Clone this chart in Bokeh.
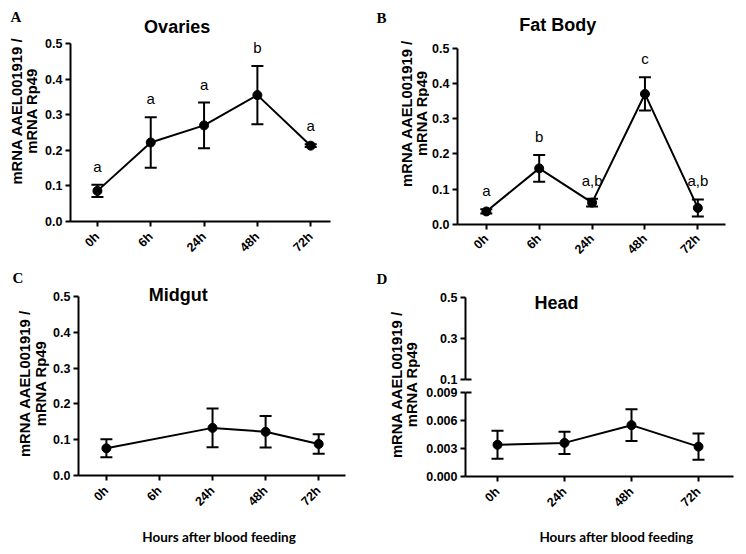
import math
from bokeh.plotting import figure
from bokeh.models import (Range1d, FixedTicker, ColumnDataSource, Whisker, TeeHead,
                          Label, LabelSet, NumeralTickFormatter)
from bokeh.layouts import row, column
from bokeh.embed import file_html
from bokeh.resources import INLINE
from bokeh.core.properties import value

# ---------------- data ----------------
hours = ["0h", "6h", "24h", "48h", "72h"]
head_hours = ["0h", "24h", "48h", "72h"]

ovaries_time = ["0h", "6h", "24h", "48h", "72h"]
ovaries_mean = [0.086, 0.222, 0.270, 0.355, 0.213]
ovaries_sem = [0.017, 0.071, 0.064, 0.082, 0.004]
ovaries_group = ["a", "a", "a", "b", "a"]

fat_time = ["0h", "6h", "24h", "48h", "72h"]
fat_mean = [0.037, 0.159, 0.062, 0.370, 0.047]
fat_sem = [0.006, 0.038, 0.011, 0.047, 0.024]
fat_group = ["a", "b", "a,b", "c", "a,b"]

midgut_time = ["0h", "24h", "48h", "72h"]
midgut_mean = [0.076, 0.133, 0.122, 0.088]
midgut_sem = [0.025, 0.054, 0.044, 0.027]

head_time = ["0h", "24h", "48h", "72h"]
head_mean = [0.0034, 0.0036, 0.0055, 0.0032]
head_sem = [0.0015, 0.0012, 0.0017, 0.0014]

y_ticks_main = [0.0, 0.1, 0.2, 0.3, 0.4, 0.5]
y_ticks_head_top = [0.1, 0.3, 0.5]
y_ticks_head_low = [0.0, 0.003, 0.006, 0.009]

y_title = ["mRNA AAEL001919 /", "mRNA Rp49"]
x_title = "Hours after blood feeding"
titles = ["Ovaries", "Fat Body", "Midgut", "Head"]
panel_letters = ["A", "B", "C", "D"]

SANS = "Liberation Sans"
SERIF = "Liberation Serif"
TICK_SIZE = "12.5px"
YLAB_SIZE = "14.8px"


# ---------------- geometry helpers (pixel layout of each panel) ----------------
class Geo:
    """ox, oy, w, h: figure box; L, B: axis corner; AR: x-axis end; AT: y-axis top (pixels)."""
    def __init__(self, ox, oy, w, h, L, B, AR, AT, x0=0, dx=1, y0=0.0, y1=0.5):
        self.ox, self.oy, self.w, self.h = ox, oy, w, h
        self.L, self.B, self.AR, self.AT = L, B, AR, AT
        self.x0, self.dx, self.y0, self.y1 = x0, dx, y0, y1

    def x(self, px):
        return (px - self.x0) / self.dx

    def y(self, py):
        return self.y0 + (self.B - py) * (self.y1 - self.y0) / (self.B - self.AT)


def base_style(p):
    p.grid.visible = False
    p.outline_line_color = None
    p.background_fill_color = "white"
    p.border_fill_color = "white"


def make_fig(g, x_axis=True, frame_top=None, frame_bottom=None):
    top = g.oy if frame_top is None else frame_top
    bottom = g.B if frame_bottom is None else frame_bottom
    p = figure(width=g.w, height=g.h, output_backend="svg", toolbar_location=None, title=None,
               x_range=Range1d(g.x(g.L), g.x(g.ox + g.w)),
               y_range=Range1d(g.y(bottom), g.y(top)),
               x_axis_type="linear" if x_axis else None,
               min_border_left=g.L - g.ox, min_border_right=0,
               min_border_top=top - g.oy, min_border_bottom=g.oy + g.h - bottom)
    base_style(p)
    for ax in p.axis:
        ax.axis_line_width = 2
        ax.axis_line_color = "black"
        ax.major_tick_line_width = 2
        ax.major_tick_line_color = "black"
        ax.major_tick_out = 5
        ax.major_tick_in = 0
        ax.minor_tick_line_color = None
        ax.major_label_text_font = SANS
        ax.major_label_text_font_style = "bold"
        ax.major_label_text_font_size = TICK_SIZE
        ax.major_label_text_color = "black"
    p.yaxis[0].bounds = (g.y0, g.y1)
    if x_axis:
        p.xaxis[0].bounds = (g.x(g.L), g.x(g.AR))
    return p


def text_fig(ox, oy, w, h):
    """Frame-only figure whose data units are page pixels (y grows downward)."""
    p = figure(width=w, height=h, output_backend="svg", toolbar_location=None, title=None,
               x_range=Range1d(ox, ox + w), y_range=Range1d(oy + h, oy),
               x_axis_type=None, y_axis_type=None,
               min_border_left=0, min_border_right=0, min_border_top=0, min_border_bottom=0)
    base_style(p)
    return p


def style_x(p, labels, standoff=8):
    ax = p.xaxis[0]
    ax.ticker = FixedTicker(ticks=list(range(len(labels))))
    ax.major_label_overrides = {i: lab for i, lab in enumerate(labels)}
    ax.major_label_orientation = math.pi / 4
    ax.major_label_standoff = standoff


def style_y(p, ticks, fmt):
    ax = p.yaxis[0]
    ax.ticker = FixedTicker(ticks=ticks)
    ax.formatter = NumeralTickFormatter(format=fmt)
    ax.major_label_standoff = 3


def add_series(p, xs, mean, sem, groups=None):
    src = ColumnDataSource(dict(
        x=xs, y=mean,
        upper=[m + s for m, s in zip(mean, sem)],
        lower=[m - s for m, s in zip(mean, sem)],
        grp=groups if groups is not None else [""] * len(xs)))
    p.line("x", "y", source=src, line_width=2, line_color="black")
    wh = Whisker(base="x", upper="upper", lower="lower", source=src,
                 line_width=2, line_color="black",
                 upper_head=TeeHead(size=12, line_width=2, line_color="black"),
                 lower_head=TeeHead(size=12, line_width=2, line_color="black"))
    p.add_layout(wh)
    p.scatter("x", "y", source=src, marker="circle", size=9,
              fill_color="black", line_color="black")
    if groups is not None:
        p.add_layout(LabelSet(x="x", y="upper", text="grp", source=src,
                              y_offset=13, text_align="center",
                              text_baseline="alphabetic",
                              text_font=value(SANS), text_font_size="15px",
                              text_color="black"))


def add_text(p, x, y, text, font=SANS, size="18px", style="bold", align="center", angle=0.0,
             baseline="alphabetic"):
    p.add_layout(Label(x=x, y=y, text=text, text_font=font, text_font_size=size,
                       text_font_style=style, text_align=align, text_baseline=baseline,
                       angle=angle, text_color="black"))


def add_ylabel(p, x1, x2, yc):
    add_text(p, x1, yc, y_title[0], size=YLAB_SIZE, angle=math.pi / 2, baseline="middle")
    add_text(p, x2, yc, y_title[1], size=YLAB_SIZE, angle=math.pi / 2, baseline="middle")


def add_letter(p, x, y, letter):
    add_text(p, x, y, letter, font=SERIF, size="15px", align="left")


def add_break_mark(p, g, yv):
    p.segment(x0=[g.x(g.L)], y0=[yv], x1=[g.x(g.L + 6)], y1=[yv],
              line_width=2, line_color="black")


TOP_L = 262   # height of the upper-left block (panel A)
TOP_R = 264   # height of the upper-right block (panel B)

# ---------------- panel A: Ovaries ----------------
tA = text_fig(0, 0, 42, TOP_L)
add_letter(tA, 10, 19, panel_letters[0])
add_ylabel(tA, 16, 31.5, 131)

gA = Geo(42, 0, 331, TOP_L, L=69, B=221, AR=330, AT=43, x0=96, dx=53.5)
pA = make_fig(gA)
style_x(pA, hours)
style_y(pA, y_ticks_main, "0.0")
add_series(pA, [hours.index(t) for t in ovaries_time], ovaries_mean, ovaries_sem, ovaries_group)
add_text(pA, gA.x(176), gA.y(26), titles[0])

# ---------------- panel B: Fat Body ----------------
tB = text_fig(373, 0, 56, TOP_R)
add_letter(tB, 376, 21, panel_letters[1])
add_ylabel(tB, 406, 421.5, 133)

gB = Geo(429, 0, 317, TOP_R, L=455, B=226, AR=725, AT=48, x0=484, dx=53.25)
pB = make_fig(gB)
style_x(pB, hours, standoff=7)
style_y(pB, y_ticks_main, "0.0")
add_series(pB, [hours.index(t) for t in fat_time], fat_mean, fat_sem, fat_group)
add_text(pB, gB.x(556), gB.y(25), titles[1])

# ---------------- panel C: Midgut ----------------
tC = text_fig(0, TOP_L, 50, 554 - TOP_L)
add_letter(tC, 12, 277, panel_letters[2])
add_ylabel(tC, 24.5, 40, 383)

gC = Geo(50, TOP_L, 323, 520 - TOP_L, L=77, B=475, AR=345, AT=296, x0=105, dx=53.25)
pC = make_fig(gC)
style_x(pC, hours)
style_y(pC, y_ticks_main, "0.0")
add_series(pC, [hours.index(t) for t in midgut_time], midgut_mean, midgut_sem)
add_text(pC, gC.x(177), gC.y(294), titles[2])

sC = text_fig(50, 520, 323, 34)
add_text(sC, 204, 536, x_title, font="Lato", size="13.5px")

# ---------------- panel D: Head (broken y axis) ----------------
tD = text_fig(373, TOP_R, 47, 554 - TOP_R)
add_letter(tD, 376, 278, panel_letters[3])
add_ylabel(tD, 396.5, 411, 384)

gDt = Geo(420, TOP_R, 326, 386 - TOP_R, L=465, B=379, AR=733, AT=297, x0=497, dx=67, y0=0.1, y1=0.5)
pDt = make_fig(gDt, x_axis=False, frame_bottom=386)
style_y(pDt, y_ticks_head_top, "0.0")
add_break_mark(pDt, gDt, gDt.y0)
add_text(pDt, gDt.x(556), gDt.y(302), titles[3])

gDb = Geo(420, 386, 326, 134, L=465, B=476, AR=733, AT=392, x0=497, dx=67, y0=0.0, y1=0.009)
pDb = make_fig(gDb, frame_top=386)
style_x(pDb, head_hours)
style_y(pDb, y_ticks_head_low, "0.000")
add_break_mark(pDb, gDb, gDb.y1)
add_series(pDb, [head_hours.index(t) for t in head_time], head_mean, head_sem)

sD = text_fig(420, 520, 326, 34)
add_text(sD, 595, 536, x_title, font="Lato", size="13.5px")

layout = row(
    column(row(tA, pA), row(tC, column(pC, sC))),
    column(row(tB, pB), row(tD, column(pDt, pDb, sD))),
)

open("out.html", "w").write(file_html(layout, INLINE))
